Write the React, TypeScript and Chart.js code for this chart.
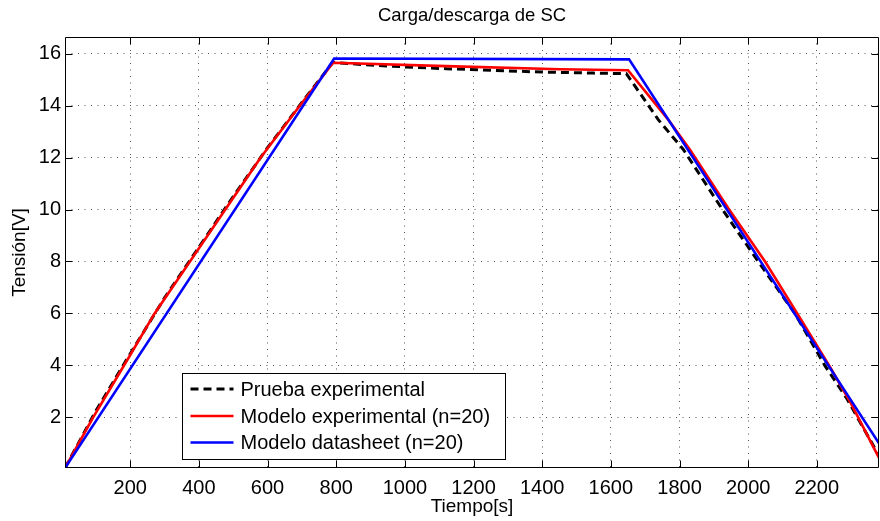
import React, { useEffect, useRef } from "react";
import { Chart, registerables } from "chart.js";

Chart.register(...registerables);

const chartTitle = "Carga/descarga de SC";
const xTitle = "Tiempo[s]";
const yTitle = "Tensión[V]";
const xTicks = [200, 400, 600, 800, 1000, 1200, 1400, 1600, 1800, 2000, 2200];
const yTicks = [2, 4, 6, 8, 10, 12, 14, 16];

const legendLabels = [
  "Prueba experimental",
  "Modelo experimental (n=20)",
  "Modelo datasheet (n=20)",
];

// Prueba experimental (black dashed)
const expTime = [10, 100, 200, 300, 400, 500, 600, 700, 790, 900, 1000, 1120, 1250, 1400, 1550, 1645, 1738, 1811, 1925, 2029, 2136, 2223, 2287, 2381];
const expVolt = [0.05, 2.25, 4.45, 6.6, 8.55, 10.5, 12.38, 14.12, 15.66, 15.56, 15.49, 15.42, 15.36, 15.29, 15.25, 15.23, 13.46, 12.31, 10, 8, 6, 4, 2.73, 0.52];

// Modelo experimental (red)
const modTime = [10, 92, 200, 271, 374, 477, 580, 700, 791, 1120, 1452, 1650, 1767, 1830, 1942, 2049, 2150, 2240, 2296, 2381];
const modVolt = [0.05, 2, 4.4, 6, 8, 10, 12, 14.1, 15.65, 15.52, 15.4, 15.36, 13.46, 12.31, 10.05, 8, 5.85, 3.9, 2.62, 0.44];

// Modelo datasheet (blue)
const dsTime = [10, 794, 1653, 2381];
const dsVolt = [0.05, 15.81, 15.78, 1.0];

const FONT = "'Liberation Sans', Arial, Helvetica, sans-serif";

const toPoints = (xs: number[], ys: number[]) => xs.map((x, i) => ({ x, y: ys[i] }));

const framePlugin = {
  id: "matlabFrame",
  afterDraw(chart: any) {
    const { ctx, chartArea } = chart;
    const { left, right, top, bottom } = chartArea;
    const xs = chart.scales.x;
    const ys = chart.scales.y;
    ctx.save();
    ctx.strokeStyle = "#000";
    ctx.lineWidth = 1;
    ctx.setLineDash([]);
    ctx.beginPath();
    const L = Math.round(left) + 0.5;
    const R = Math.round(right) - 0.5;
    const T = Math.round(top) + 0.5;
    const B = Math.round(bottom) - 0.5;
    ctx.rect(L, T, R - L, B - T);
    ctx.stroke();
    const tl = 7;
    ctx.beginPath();
    xTicks.forEach((v) => {
      const px = Math.round(xs.getPixelForValue(v)) + 0.5;
      ctx.moveTo(px, B);
      ctx.lineTo(px, B - tl);
      ctx.moveTo(px, T);
      ctx.lineTo(px, T + tl);
    });
    yTicks.forEach((v) => {
      const py = Math.round(ys.getPixelForValue(v)) + 0.5;
      ctx.moveTo(L, py);
      ctx.lineTo(L + tl, py);
      ctx.moveTo(R, py);
      ctx.lineTo(R - tl, py);
    });
    ctx.stroke();

    // title centred over the plot area
    ctx.fillStyle = "#000";
    ctx.font = `18.5px ${FONT}`;
    ctx.textAlign = "center";
    ctx.textBaseline = "middle";
    ctx.fillText(chart.options.plugins.matlabFrame.title, (left + right) / 2, 16);

    // legend box
    const bx = Math.round(left) + 117 + 0.5;
    const bw = 323;
    const bh = 86;
    const by = Math.round(bottom) - 9 - bh + 0.5;
    ctx.fillStyle = "#fff";
    ctx.fillRect(bx, by, bw, bh);
    ctx.strokeStyle = "#000";
    ctx.lineWidth = 1;
    ctx.strokeRect(bx, by, bw, bh);
    const rows = [15.5, 42.5, 69];
    ctx.font = `20px ${FONT}`;
    ctx.textBaseline = "middle";
    ctx.textAlign = "left";
    chart.data.datasets.forEach((ds: any, i: number) => {
      const ry = by + rows[i];
      ctx.save();
      ctx.strokeStyle = ds.borderColor;
      ctx.lineWidth = ds.borderWidth;
      ctx.setLineDash(ds.borderDash || []);
      ctx.beginPath();
      ctx.moveTo(bx + 8, ry);
      ctx.lineTo(bx + 51, ry);
      ctx.stroke();
      ctx.restore();
      ctx.fillStyle = "#000";
      ctx.fillText(ds.label, bx + 58, ry + 1);
    });
    ctx.restore();
  },
};

export default function App() {
  const ref = useRef<HTMLCanvasElement | null>(null);

  useEffect(() => {
    document.body.style.margin = "0";
    const canvas = ref.current;
    if (!canvas) return;
    const chart = new Chart(canvas, {
      type: "line",
      data: {
        datasets: [
          {
            label: legendLabels[0],
            data: toPoints(expTime, expVolt),
            borderColor: "#000000",
            borderWidth: 3,
            borderDash: [8, 5],
            pointRadius: 0,
            tension: 0,
            fill: false,
            order: 3,
          },
          {
            label: legendLabels[1],
            data: toPoints(modTime, modVolt),
            borderColor: "#ff0000",
            borderWidth: 2.6,
            pointRadius: 0,
            tension: 0,
            fill: false,
            order: 2,
          },
          {
            label: legendLabels[2],
            data: toPoints(dsTime, dsVolt),
            borderColor: "#0000ff",
            borderWidth: 2.6,
            pointRadius: 0,
            tension: 0,
            fill: false,
            order: 1,
          },
        ],
      },
      options: {
        animation: false,
        responsive: false,
        maintainAspectRatio: false,
        events: [],
        layout: { padding: { left: 0, right: 1, top: 37, bottom: 0 } },
        plugins: {
          legend: { display: false },
          tooltip: { enabled: false },
          title: { display: false },
          matlabFrame: { title: chartTitle },
        },
        scales: {
          x: {
            type: "linear",
            min: 10,
            max: 2381,
            afterBuildTicks: (s: any) => {
              s.ticks = xTicks.map((v) => ({ value: v }));
            },
            afterFit: (s: any) => {
              s.height = 53;
            },
            grid: { color: "#555", lineWidth: 1, drawTicks: false },
            border: { display: false, dash: [1, 5.5] },
            ticks: {
              color: "#000",
              font: { family: FONT, size: 20 },
              padding: 8,
              maxRotation: 0,
              autoSkip: false,
              callback: (v: any) => String(v),
            },
            title: {
              display: true,
              text: xTitle,
              color: "#000",
              font: { family: FONT, size: 19 },
              padding: { top: 0, bottom: 3 },
            },
          },
          y: {
            type: "linear",
            min: 0.05,
            max: 16.64,
            afterBuildTicks: (s: any) => {
              s.ticks = yTicks.map((v) => ({ value: v }));
            },
            afterFit: (s: any) => {
              s.width = 65;
            },
            grid: { color: "#555", lineWidth: 1, drawTicks: false },
            border: { display: false, dash: [1, 5.5] },
            ticks: {
              color: "#000",
              font: { family: FONT, size: 20 },
              padding: 4,
              autoSkip: false,
              callback: (v: any) => String(v),
            },
            title: {
              display: true,
              text: yTitle,
              color: "#000",
              font: { family: FONT, size: 19 },
              padding: { top: 8, bottom: 0 },
            },
          },
        },
      },
      plugins: [framePlugin],
    } as any);
    return () => chart.destroy();
  }, []);

  return (
    <div style={{ width: 880, height: 521, background: "#fff" }}>
      <canvas ref={ref} width={880} height={521} style={{ display: "block", width: 880, height: 521 }} />
    </div>
  );
}
